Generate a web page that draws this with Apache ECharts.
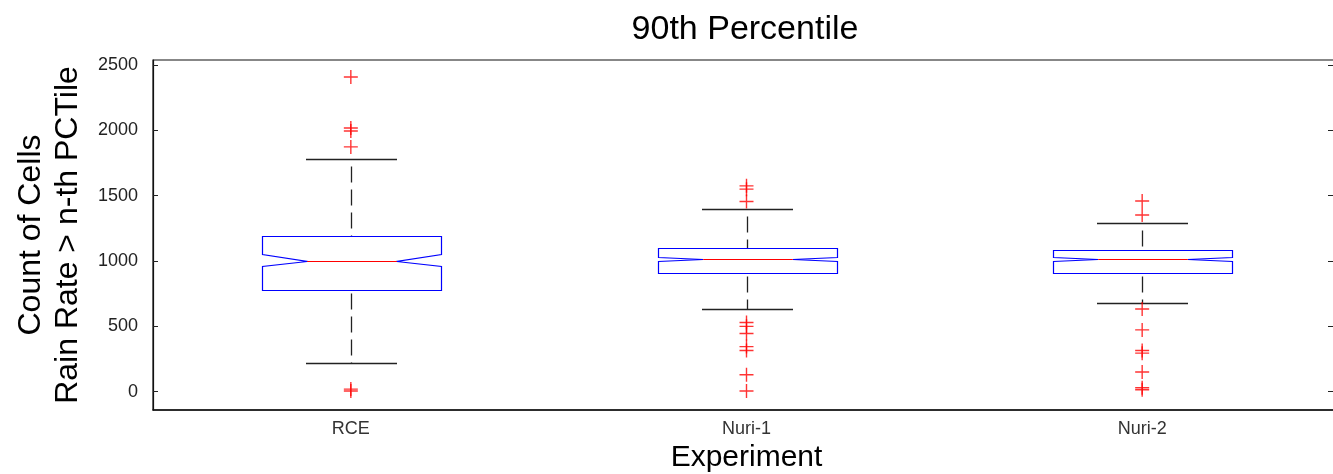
<!DOCTYPE html>
<html>
<head>
<meta charset="utf-8">
<script src="https://cdn.jsdelivr.net/npm/echarts@6/dist/echarts.min.js"></script>
<style>html,body{margin:0;padding:0;background:#fff;}#c{width:1333px;height:474px;}</style>
</head>
<body>
<div id="c"></div>
<script>
const categories = ['RCE', 'Nuri-1', 'Nuri-2'];
const q1 = [778, 910, 909];
const notchLo = [962, 998, 998];
const median = [1000, 1015, 1015];
const notchHi = [1054, 1033, 1033];
const q3 = [1191, 1097, 1084];
const whiskerLo = [220, 633, 679];
const whiskerHi = [1780, 1400, 1291];
const outliersRCE = [2408, 2018, 1995, 1873, 20, 5];
const outliersNuri1 = [1575, 1550, 1455, 530, 500, 445, 345, 315, 130, 5];
const outliersNuri2 = [1459, 1352, 633, 473, 315, 295, 151, 30, 15];
const yTicks = [0, 500, 1000, 1500, 2000, 2500];

const FONT = "'Liberation Sans', Arial, Helvetica, sans-serif";

const boxData = categories.map((c, i) => [i, q1[i], notchLo[i], median[i], notchHi[i], q3[i], whiskerLo[i], whiskerHi[i]]);
const outlierData = [];
[outliersRCE, outliersNuri1, outliersNuri2].forEach((arr, i) => arr.forEach(v => outlierData.push([i, v])));

function renderBox(params, api) {
  const i = api.value(0);
  const band = api.size([1, 0])[0];
  const hw = band * 0.226, cw = band * 0.115, d = hw * 0.5;
  const cx = Math.round(api.coord([i, 0])[0]) + 0.5;
  const y = v => Math.round(api.coord([i, v])[1]) + 0.5;
  const L = Math.round(cx - hw) + 0.5, R = Math.round(cx + hw) + 0.5;
  const yq1 = y(api.value(1)), ynl = y(api.value(2)), ym = y(api.value(3)),
        ynh = y(api.value(4)), yq3 = y(api.value(5)), ywl = y(api.value(6)), ywh = y(api.value(7));
  const whisk = { stroke: '#222', lineWidth: 1.3, lineDash: [16, 7] };
  const cap = { stroke: '#222', lineWidth: 1.5 };
  return {
    type: 'group',
    children: [
      { type: 'line', shape: { x1: cx, y1: ywh, x2: cx, y2: yq3 }, style: Object.assign({ lineDashOffset: 16 }, whisk) },
      { type: 'line', shape: { x1: cx, y1: yq1, x2: cx, y2: ywl }, style: Object.assign({ lineDashOffset: 20 }, whisk) },
      { type: 'line', shape: { x1: cx - cw, y1: ywh, x2: cx + cw, y2: ywh }, style: cap },
      { type: 'line', shape: { x1: cx - cw, y1: ywl, x2: cx + cw, y2: ywl }, style: cap },
      { type: 'polygon', shape: { points: [
          [L, yq1], [L, ynl], [L + d, ym], [L, ynh], [L, yq3],
          [R, yq3], [R, ynh], [R - d, ym], [R, ynl], [R, yq1]
        ] }, style: { fill: 'none', stroke: '#0000ff', lineWidth: 1.2 } },
      { type: 'line', shape: { x1: L + d, y1: ym, x2: R - d, y2: ym }, style: { stroke: '#ff0000', lineWidth: 1.2 } }
    ]
  };
}

const chart = echarts.init(document.getElementById('c'), null, { renderer: 'canvas' });
chart.setOption({
  backgroundColor: '#fff',
  animation: false,
  textStyle: { fontFamily: FONT },
  graphic: [{
    type: 'text', x: 745, y: 13,
    style: { text: '90th Percentile', fontSize: 34, fontFamily: FONT, fill: '#000', textAlign: 'center', textVerticalAlign: 'top' }
  }],
  grid: { left: 153, right: -7, top: 60, bottom: 64, show: true, borderColor: '#111', borderWidth: 1.2, backgroundColor: '#fff', outerBoundsMode: 'none', containLabel: false },
  xAxis: {
    type: 'category', data: categories, boundaryGap: true,
    axisTick: { show: false },
    axisLine: { onZero: false, lineStyle: { color: '#111', width: 1.5 } },
    axisLabel: { fontSize: 18, color: '#333', margin: 10, fontFamily: FONT },
    name: 'Experiment', nameLocation: 'middle', nameGap: 28,
    nameTextStyle: { fontSize: 30, color: '#000', fontFamily: FONT }
  },
  yAxis: [{
    type: 'value', min: -140, max: 2538, position: 'left',
    splitLine: { show: false },
    axisLine: { show: true, onZero: false, lineStyle: { color: '#111', width: 1.2 } },
    axisTick: { show: true, inside: true, length: 5, customValues: yTicks, lineStyle: { color: '#222' } },
    axisLabel: { customValues: yTicks, margin: 15, fontSize: 18, color: '#222', fontFamily: FONT, formatter: v => String(v) },
    name: 'Count of Cells\nRain Rate > n-th PCTile', nameLocation: 'middle', nameRotate: 90, nameGap: 61,
    nameTextStyle: { fontSize: 32, color: '#000', lineHeight: 37, fontFamily: FONT, align: 'center' }
  }, {
    type: 'value', min: -140, max: 2538, position: 'right',
    splitLine: { show: false },
    axisLine: { show: true, onZero: false, lineStyle: { color: '#111' } },
    axisTick: { show: true, inside: true, length: 12, customValues: yTicks, lineStyle: { color: '#222' } },
    axisLabel: { show: false }
  }],
  series: [{
    type: 'custom', name: 'box', renderItem: renderBox, data: boxData,
    encode: { x: 0, y: [1, 2, 3, 4, 5, 6, 7] }, z: 2
  }, {
    type: 'scatter', name: 'outliers', data: outlierData,
    symbol: 'path://M6.3,0H7.7V6.3H14V7.7H7.7V14H6.3V7.7H0V6.3H6.3Z', symbolSize: 14,
    itemStyle: { color: '#ff0000' }, z: 3
  }]
});
</script>
</body>
</html>
